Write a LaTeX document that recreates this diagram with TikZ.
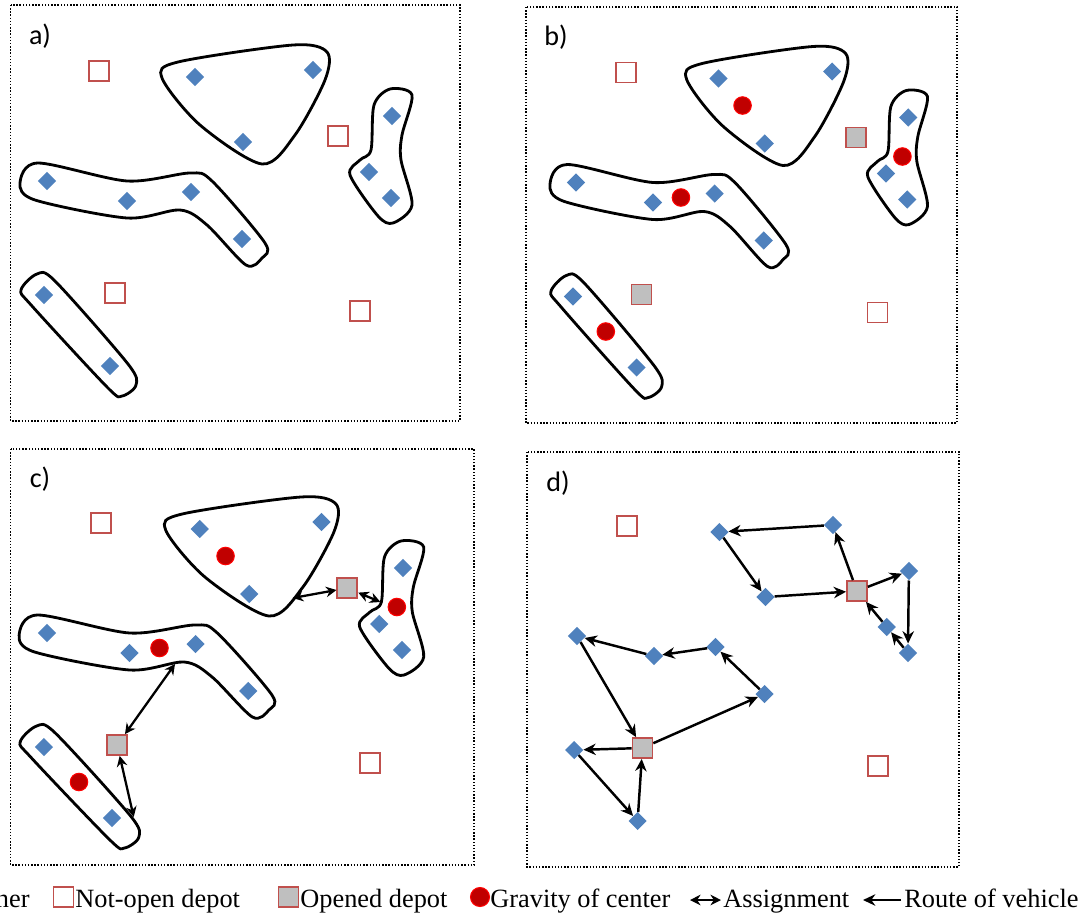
\documentclass[tikz,border=0pt]{standalone}
\usepackage{fontspec}
\setmainfont{Liberation Serif}
\newfontfamily\labelfont{Carlito}
\usetikzlibrary{shapes.geometric, arrows.meta, positioning}
\definecolor{cCust}{RGB}{79,129,189}
\definecolor{cDepot}{RGB}{192,80,77}
\definecolor{cOpen}{RGB}{191,191,191}
\definecolor{cGrav}{RGB}{192,0,0}
\tikzset{
	cust/.style     ={diamond, fill=cCust, minimum size=0.37cm, inner sep=0pt},
	depot/.style    ={rectangle, draw=cDepot, line width=1pt, fill=white, minimum size=0.40cm, inner sep=0pt},
	opendepot/.style={depot, fill=cOpen},
	grav/.style     ={circle, fill=cGrav, draw=red, line width=0.6pt, minimum size=0.35cm, inner sep=0pt},
	cluster/.style  ={draw=black, line width=1.6pt},
	panel/.style    ={draw=black, densely dotted, line width=0.8pt},
	plabel/.style   ={font=\fontsize{16}{18}\selectfont\labelfont, inner sep=0pt},
	legtext/.style  ={font=\fontsize{15}{18}\selectfont, inner sep=0pt, anchor=base west},
	% connectors
	assign/.style   ={{Stealth[length=6pt,width=6pt]}-{Stealth[length=6pt,width=6pt]}, line width=1.3pt},
	route/.style    ={-{Stealth[length=7pt,width=6.5pt]}, line width=1.4pt},
}
% panel content, #1 = prefix of the node names
\newcommand{\custs}[1]{%
	\foreach \n/\x/\y in {1/195/77, 2/313/70, 3/243/142, 4/392/116, 5/369/172, 6/391/198,
		7/47/181, 8/127/201, 9/191/192, 10/242/239, 11/44/295, 12/110/366}
		\node[cust] (#1c\n) at (\x,\y) {};}
\newcommand{\depots}[2]{%
	\node[depot] (#1p1) at (99,71) {};
	\node[#2] (#1p2) at (338,136) {};
	\node[#2] (#1p3) at (115,293) {};
	\node[depot] (#1p4) at (360,311) {};}
\newcommand{\gravs}[1]{%
	\node[grav] (#1g1) at (220,104) {};
	\node[grav] (#1g2) at (156,196) {};
	\node[grav] (#1g3) at (386,155) {};
	\node[grav] (#1g4) at (78,330) {};}
\newcommand{\clusters}[1]{%
	\draw[cluster] plot[smooth cycle] coordinates {(162,78) (178,62) (293,45) (327,52) (325,80) (295,135) (262,164) (200,125)};
	\draw[cluster] plot[smooth cycle] coordinates {(20,183) (38,163) (127,181) (190,173) (212,181) (265,243) (262,258) (246,265) (207,225) (180,210) (127,218) (35,200)};
	\draw[cluster] plot[smooth cycle] coordinates {(374,105) (390,89) (412,95) (402,135) (401,160) (412,205) (393,223) (378,216) (350,175) (360,160) (371,150)};
	\draw[cluster] plot[smooth cycle] coordinates {(21,290) (37,274) (55,281) (128,364) (136,385) (122,396) (108,388) (32,306)};
	\coordinate (#1e1) at (285,146);
	\coordinate (#1e2) at (370,150);
	\coordinate (#1e3) at (171,212);
	\coordinate (#1e4) at (131,365);}

\begin{document}
\begin{tikzpicture}[x=0.02cm, y=-0.02cm]
	\useasboundingbox (0,0) rectangle (1082,917);
	% panel boxes and labels
	\draw[panel] (10.7,5) rectangle (460,421);
	\draw[panel] (526,7) rectangle (957,423);
	\draw[panel] (10.7,449) rectangle (474,865);
	\draw[panel] (527,452) rectangle (959,867);
	\node[plabel] (lbla) at (40,36) {a)};
	\node[plabel] (lblb) at (556,37) {b)};
	\node[plabel] (lblc) at (40,479) {c)};
	\node[plabel] (lbld) at (558,483) {d)};

	% a) clusters
	\begin{scope}
		\clusters{a}
		\custs{a}
		\depots{a}{depot}
	\end{scope}

	% b) centres and opened depots
	\begin{scope}[shift={(530.7,1.5)}, xscale=0.963]
		\clusters{b}
		\custs{b}
		\depots{b}{opendepot}
		\gravs{b}
	\end{scope}

	% c) assignment
	\begin{scope}[shift={(-1.5,452)}, xscale=1.032]
		\clusters{c}
		\custs{c}
		\depots{c}{opendepot}
		\gravs{c}
		\draw[assign] (cp2) -- (ce1);
		\draw[assign] (cp2) -- (ce2);
		\draw[assign] (cp3) -- (ce3);
		\draw[assign] (cp3) -- (ce4);
	\end{scope}

	% d) routes
	\begin{scope}[shift={(531.8,455)}, xscale=0.962]
		\custs{d}
		\depots{d}{opendepot}
		\foreach \s/\t in {p2/c2, c2/c1, c1/c3, c3/p2, p2/c4, c4/c6, c6/c5, c5/p2,
			p3/c10, c10/c9, c9/c8, c8/c7, c7/p3, p3/c11, c11/c12, c12/p3}
			\draw[route] (d\s) -- (d\t);
	\end{scope}

	% legend
	\node[legtext, anchor=base east] (lcust) at (30,907) {ner};
	\node[depot] (lnot) at (63.5,897) {};
	\node[legtext] (ltnot) at (75,907) {Not-open depot};
	\node[opendepot] (lopen) at (288.5,897) {};
	\node[legtext] (ltopen) at (300,907) {Opened depot};
	\node[grav, minimum size=0.38cm] (lgrav) at (480,897) {};
	\node[legtext] (ltgrav) at (490,907) {Gravity of center};
	\coordinate (lasA) at (690,900);
	\coordinate (lasB) at (721,900);
	\draw[assign] (lasA) -- (lasB);
	\node[legtext] (ltas) at (723,907) {Assignment};
	\coordinate (lroA) at (901,900);
	\coordinate (lroB) at (863,900);
	\draw[route] (lroA) -- (lroB);
	\node[legtext] (ltro) at (904,907) {Route of vehicle};
\end{tikzpicture}
\end{document}
